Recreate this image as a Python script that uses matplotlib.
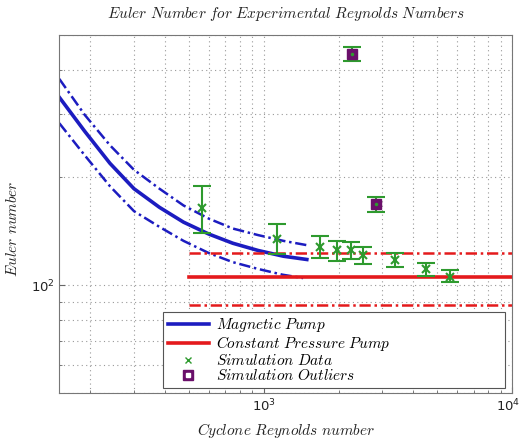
import numpy as np
import matplotlib
matplotlib.use('Agg')
import matplotlib.pyplot as plt
from matplotlib.lines import Line2D
from matplotlib.transforms import ScaledTranslation
from matplotlib.ticker import LogLocator, NullFormatter, LogFormatterMathtext

plt.rcParams['mathtext.fontset'] = 'cm'

# magnetic pump curve and its band
mag_re = [150, 190, 240, 300, 380, 475, 600, 750, 950, 1200, 1490]
mag_eu = [335, 269, 219, 186, 165, 150, 139, 131, 125, 120.5, 118]
mag_hi_re = [150, 190, 240, 300, 380, 475, 600, 750, 950, 1200, 1490]
mag_hi_eu = [377, 299, 246, 210, 186, 167, 153.5, 144, 138, 133, 129.4]
mag_lo_re = [150, 190, 240, 300, 380, 475, 600, 750, 950, 1190, 1440]
mag_lo_eu = [283.5, 230.5, 189, 161, 145.5, 133, 123, 116, 111, 107, 104.7]

# constant pressure pump
cp_re = [500, 10000]
cp_eu = 105.5
cp_hi = 123.3
cp_lo = 88.2

# simulation data
sim_re = [562, 1125, 1681, 1963, 2235, 2512, 3370, 4491, 5611]
sim_eu = [164.7, 134.7, 128.2, 125.4, 125.4, 121.5, 117.6, 111.0, 105.7]
sim_hi = [189.3, 148.1, 137.3, 132.9, 132.3, 128.2, 122.8, 115.6, 110.3]
sim_lo = [139.7, 122.0, 118.9, 116.9, 118.2, 114.4, 112.2, 106.1, 101.9]

out_re = [2256, 2818]
out_eu = [442.5, 168.6]
out_hi = [462, 176.7]
out_lo = [424, 160.5]

blue = '#1c1cc0'
red = '#e41a1c'
green = '#2e9a2e'
purple = '#6a0f6a'

fig = plt.figure(figsize=(5.22, 4.42), dpi=100)
ax = fig.add_axes([0.1136, 0.1109, 0.8674, 0.8099])
ax.set_xscale('log')
ax.set_yscale('log')

dd = (4.5, 1.5, 1, 1.5)
ax.plot(mag_re, mag_eu, color=blue, lw=2.6)
ax.plot(mag_hi_re, mag_hi_eu, color=blue, lw=1.8, dashes=dd)
ax.plot(mag_lo_re, mag_lo_eu, color=blue, lw=1.8, dashes=dd)

ax.plot(cp_re, [cp_eu, cp_eu], color=red, lw=2.6)
ax.plot(cp_re, [cp_hi, cp_hi], color=red, lw=1.8, dashes=dd)
ax.plot(cp_re, [cp_lo, cp_lo], color=red, lw=1.8, dashes=dd)

sim_err = [np.array(sim_eu) - np.array(sim_lo), np.array(sim_hi) - np.array(sim_eu)]
ax.errorbar(sim_re, sim_eu, yerr=sim_err, fmt='x', color=green, ms=6, mew=1.5,
            elinewidth=1.5, capsize=6.5, capthick=1.5)

out_err = [np.array(out_eu) - np.array(out_lo), np.array(out_hi) - np.array(out_eu)]
ax.errorbar(out_re, out_eu, yerr=out_err, fmt='none', ecolor=green,
            elinewidth=1.5, capsize=6.5, capthick=1.5)
ax.plot(out_re, out_eu, 's', color=purple, ms=7.5)
ax.plot(out_re, out_eu, '.', color=green, ms=3)

ax.set_xlim(150, 10000)
ax.set_ylim(50, 500)

ax.set_xticks([1e3, 1e4])
ax.xaxis.set_major_formatter(LogFormatterMathtext())
ax.yaxis.set_major_locator(LogLocator(base=10))
ax.yaxis.set_major_formatter(LogFormatterMathtext())
ax.yaxis.set_minor_locator(LogLocator(base=10, subs=np.arange(2, 10)))
ax.yaxis.set_minor_formatter(NullFormatter())
ax.xaxis.set_minor_formatter(NullFormatter())
ax.grid(True, which='both', ls=(0, (1, 3)), color='#999999', lw=0.8)
ax.tick_params(which='both', direction='in', colors='#666666', labelcolor='#222222',
               labelsize=9.5)
ax.tick_params(which='major', length=4)
ax.tick_params(which='minor', length=2)
for s in ax.spines.values():
    s.set_color('#777777')

# keep the 10^4 label inside the canvas
last = ax.xaxis.get_major_ticks()[-1].label1
last.set_transform(last.get_transform() + ScaledTranslation(-3 / 72, 0, fig.dpi_scale_trans))

ax.set_title(r'$Euler\ Number\ for\ Experimental\ Reynolds\ Numbers$', fontsize=11,
             pad=12, color='#222222')
ax.set_xlabel(r'$Cyclone\ Reynolds\ number$', fontsize=11, labelpad=5, color='#222222')
ax.set_ylabel(r'$Euler\ number$', fontsize=11, color='#222222')
ax.yaxis.set_label_coords(-0.087, 0.458)

h_mag = Line2D([], [], color=blue, lw=2.6)
h_cp = Line2D([], [], color=red, lw=2.6)
h_sim = Line2D([], [], ls='none', marker='x', color=green, ms=5, mew=1)
h_out = (Line2D([], [], ls='none', marker='s', color=purple, ms=7),
         Line2D([], [], ls='none', marker='s', color='white', ms=2.5))
leg = ax.legend([h_mag, h_cp, h_sim, h_out],
                [r'$Magnetic\ Pump$', r'$Constant\ Pressure\ Pump$',
                 r'$Simulation\ Data$', r'$Simulation\ Outliers$'],
                loc='lower left', bbox_to_anchor=(0.229, 0.014, 0.756, 0.2),
                mode='expand', borderaxespad=0, fontsize=11, handlelength=2.7,
                handletextpad=0.5, labelspacing=0.0, borderpad=0.3,
                fancybox=False, framealpha=1)
leg.get_frame().set_edgecolor('#555555')
leg.get_frame().set_linewidth(0.8)

fig.savefig('out.png', dpi=100)
